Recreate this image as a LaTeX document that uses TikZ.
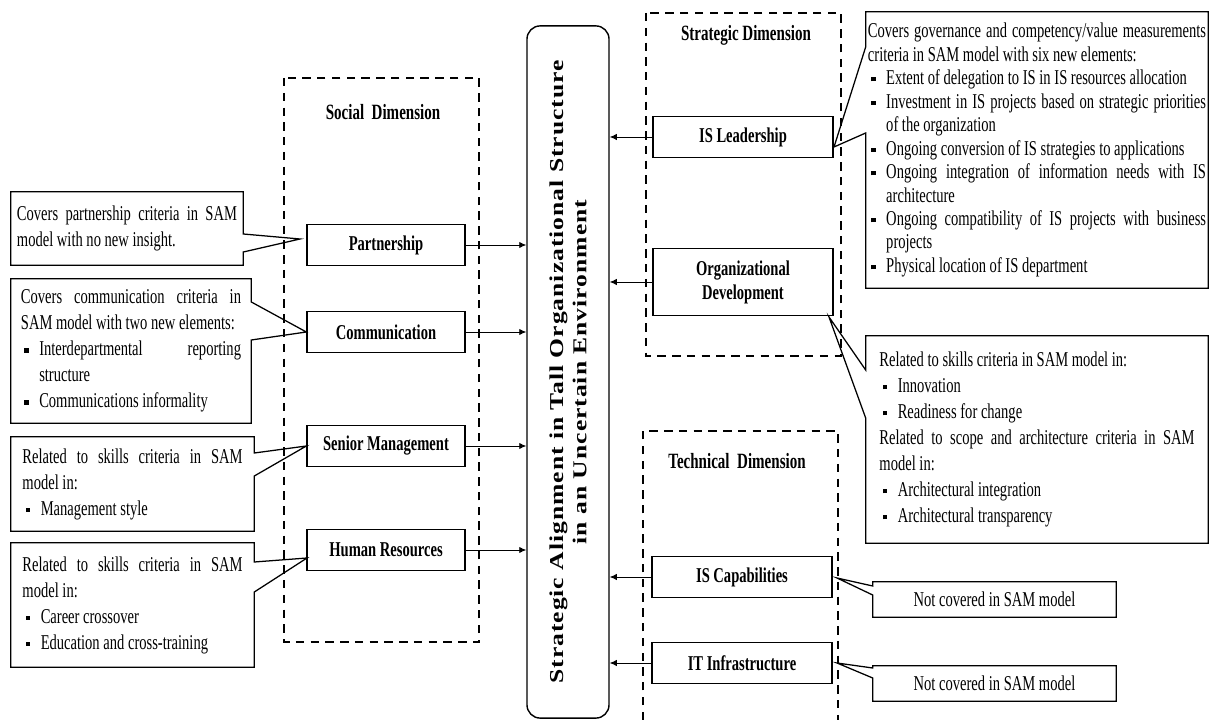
\documentclass[tikz,border=0pt]{standalone}
\usepackage{fontspec}
\setmainfont{Liberation Serif}[FakeStretch=0.69]
\newfontfamily\axisfont{Liberation Serif}[FakeStretch=1.3,LetterSpace=5]
\usetikzlibrary{arrows.meta}
\setlength{\parindent}{0pt}
% small square bullet with hanging indent
\newcommand{\sqitem}[1]{\par\hangindent=13pt\hangafter=1\noindent\hbox to 13pt{\hskip 2.5pt\rule[2.2pt]{3pt}{3pt}\hss}#1}

\begin{document}
\begin{tikzpicture}[
    x=0.025cm, y=-0.025cm,
    dimframe/.style={line width=1.5pt, dash pattern=on 6pt off 4.5pt},
    dimtitle/.style={font=\fontsize{15.5}{17}\selectfont\bfseries},
    factor/.style={draw, line width=0.9pt, align=center, font=\fontsize{15}{17}\selectfont\bfseries, minimum height=1.025cm},
    socbox/.style={factor, minimum width=3.95cm},
    rightbox/.style={factor, minimum width=4.5cm},
    note/.style={text width=5.5cm, align=justify, inner xsep=0.15cm, inner ysep=0pt, font=\fontsize{15}{18.5}\selectfont},
    shortnote/.style={align=center, minimum width=6.075cm, minimum height=0.875cm, inner sep=0pt, font=\fontsize{15}{16}\selectfont},
    noteline/.style={line width=0.9pt},
    arr/.style={-{Latex[length=5pt,width=4.5pt]}, line width=0.65pt},
]
    \useasboundingbox (0,0) rectangle (1210,720);

    % Central box
    \node[draw, line width=1pt, rounded corners=0.33cm, minimum width=2.05cm, minimum height=17.3cm] (sa) at (568,372) {};
    \node[rotate=90, align=center, font=\axisfont\bfseries\fontsize{14}{16.4}\selectfont] (satext) at (sa.center) {Strategic Alignment in Tall Organizational Structure\\in an Uncertain Environment};

    % Social dimension
    \draw[dimframe] (284,78) rectangle (479,642);
    \node[dimtitle] (soctitle) at (383,112) {Social\ \ Dimension};
    \node[socbox] (pship) at (386,245) {Partnership};
    \node[socbox] (comm) at (386,332) {Communication};
    \node[socbox] (senior) at (386,446) {Senior Management};
    \node[socbox] (hr) at (386,550) {Human Resources};

    % Strategic dimension
    \draw[dimframe] (646,13) rectangle (841,356);
    \node[dimtitle] (strattitle) at (746,35) {Strategic Dimension};
    \node[rightbox] (isl) at (743,137) {IS Leadership};
    \node[rightbox, minimum height=1.675cm] (orgdev) at (743,282) {Organizational\\Development};

    % Technical dimension
    \draw[dimframe] (643,720) -- (643,431) -- (838,431) -- (838,720);
    \node[dimtitle] (techtitle) at (737,461) {Technical\ \ Dimension};
    \node[rightbox] (iscap) at (742,577) {IS Capabilities};
    \node[rightbox] (itinf) at (742,663) {IT Infrastructure};

    % Arrows to the central box
    \foreach \b in {pship,comm,senior,hr}
        \draw[arr] (\b.east) -- (\b.east -| sa.west);
    \foreach \b in {isl,orgdev,iscap,itinf}
        \draw[arr] (\b.west) -- (\b.west -| sa.east);

    % Left notes
    \node[note, minimum width=5.8cm, minimum height=1.825cm] (n1) at (127,228.5)
        {Covers partnership criteria in SAM\linebreak model with no new insight.};
    \node[note, minimum width=6cm, minimum height=3.6cm] (n2) at (131,351)
        {Covers communication criteria in\linebreak SAM model with two new elements:\sqitem{Interdepartmental reporting\linebreak structure}\sqitem{Communications informality}};
    \node[note, minimum width=6.075cm, minimum height=2.35cm] (n3) at (132.5,484)
        {Related to skills criteria in SAM\linebreak model in:\sqitem{Management style}};
    \node[note, minimum width=6.075cm, minimum height=3.1cm] (n4) at (132.5,605)
        {Related to skills criteria in SAM\linebreak model in:\sqitem{Career crossover}\sqitem{Education and cross-training}};

    % Right notes
    \node[note, text width=8.45cm, inner xsep=0.05cm, minimum width=8.55cm, minimum height=6.9cm, font=\fontsize{15}{16.7}\selectfont] (n5) at (1037,150)
        {Covers governance and competency/value measurements\linebreak criteria in SAM model with six new elements:%
        \sqitem{Extent of delegation to IS in IS resources allocation}%
        \sqitem{Investment in IS projects based on strategic priorities\linebreak of the organization}%
        \sqitem{Ongoing conversion of IS strategies to applications}%
        \sqitem{Ongoing integration of information needs with IS\linebreak architecture}%
        \sqitem{Ongoing compatibility of IS projects with business\linebreak projects}%
        \sqitem{Physical location of IS department}};
    \node[note, text width=7.875cm, minimum width=8.55cm, minimum height=5.175cm] (n6) at (1037,439.5)
        {Related to skills criteria in SAM model in:%
        \sqitem{Innovation}\sqitem{Readiness for change}%
        \par Related to scope and architecture criteria in SAM\linebreak model in:%
        \sqitem{Architectural integration}\sqitem{Architectural transparency}};
    \node[shortnote] (n7) at (994.5,599.5) {Not covered in SAM model};
    \node[shortnote] (n8) at (994.5,683.5) {Not covered in SAM model};

    % Pointer tips
    \coordinate (t1) at (300,239);
    \coordinate (t4) at (307,558);
    \coordinate (t5) at (834,147);
    \coordinate (t6) at (829,317);
    \coordinate (t7) at (837,578);
    \coordinate (t8) at (837,663);

    % Note outlines with pointers
    \draw[noteline] (n1.north west) -- (n1.north east) -- (n1.east |- 0,234) -- (t1) -- (n1.east |- 0,252) -- (n1.south east) -- (n1.south west) -- cycle;
    \draw[noteline] (n2.north west) -- (n2.north east) -- (n2.east |- 0,302) -- (comm.west) -- (n2.east |- 0,340) -- (n2.south east) -- (n2.south west) -- cycle;
    \draw[noteline] (n3.north west) -- (n3.north east) -- (n3.east |- 0,453) -- (senior.west) -- (n3.east |- 0,476) -- (n3.south east) -- (n3.south west) -- cycle;
    \draw[noteline] (n4.north west) -- (n4.north east) -- (n4.east |- 0,562) -- (t4) -- (n4.east |- 0,592) -- (n4.south east) -- (n4.south west) -- cycle;
    \draw[noteline] (n5.north west) -- (n5.north east) -- (n5.south east) -- (n5.south west) -- (n5.west |- 0,133) -- (t5) -- (n5.west |- 0,47) -- cycle;
    \draw[noteline] (n6.north west) -- (n6.north east) -- (n6.south east) -- (n6.south west) -- (n6.west |- 0,418) -- (t6) -- (n6.west |- 0,370) -- cycle;
    \draw[noteline] (n7.north west) -- (n7.north east) -- (n7.south east) -- (n7.south west) -- (n7.west |- 0,595) -- (t7) -- (n7.west |- 0,586) -- cycle;
    \draw[noteline] (n8.north west) -- (n8.north east) -- (n8.south east) -- (n8.south west) -- (n8.west |- 0,678) -- (t8) -- (n8.west |- 0,668) -- cycle;
\end{tikzpicture}
\end{document}
